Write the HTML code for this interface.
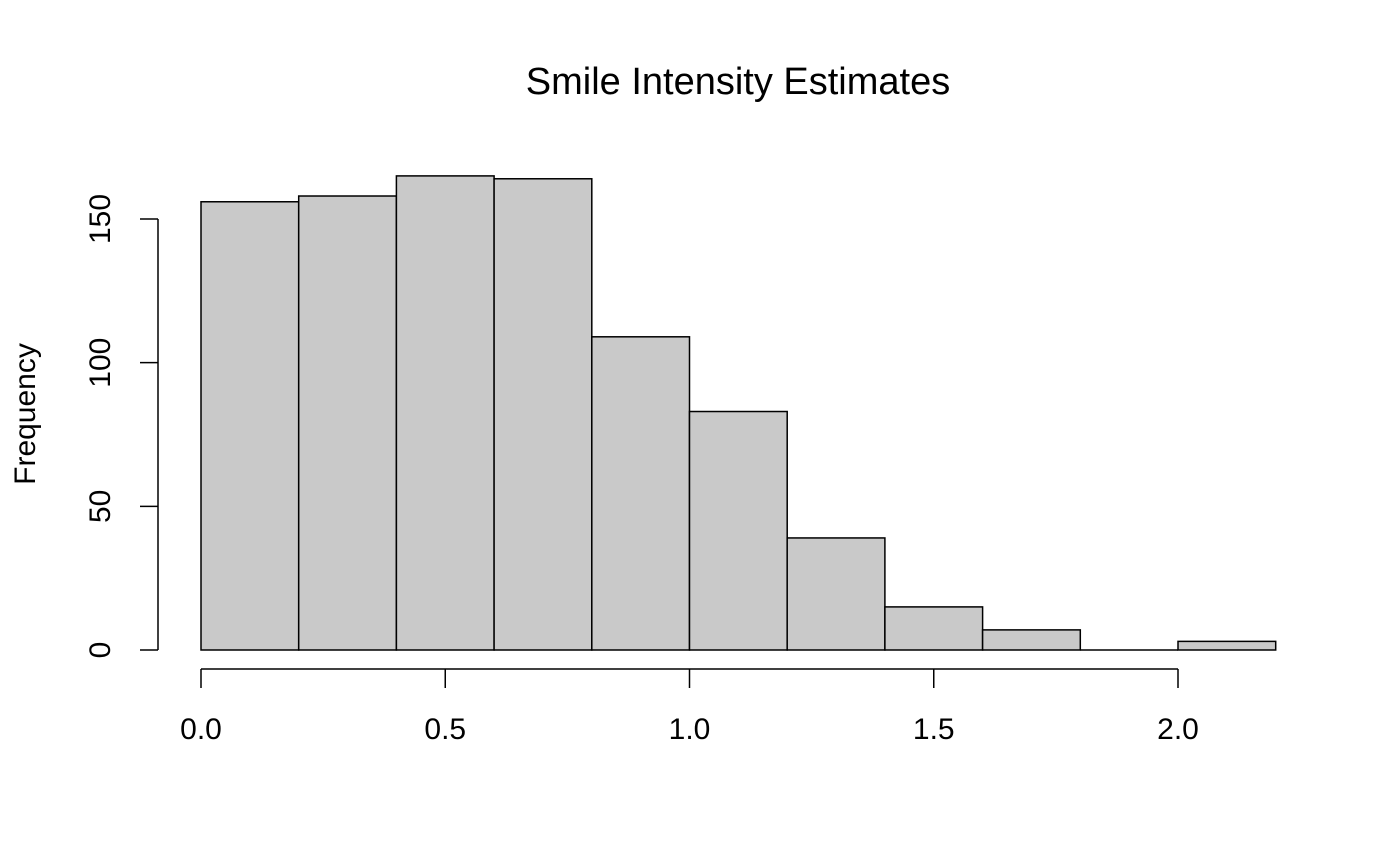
<!DOCTYPE html>
<html><head><meta charset="utf-8"><style>
html,body{margin:0;padding:0;background:#fff;}
svg{display:block;font-family:"Liberation Sans",Arial,sans-serif;}
</style></head><body>
<svg id="chart" width="1400" height="865" viewBox="0 0 1400 865" xmlns="http://www.w3.org/2000/svg">
<text x="738" y="94" font-size="38" text-anchor="middle">Smile Intensity Estimates</text>
<text transform="translate(35,414) rotate(-90)" font-size="30" text-anchor="middle">Frequency</text>
<g id="bars"></g>
<g id="yaxis"></g>
<g id="xaxis"></g>
</svg>
<script>
const binEdges = [0,0.2,0.4,0.6,0.8,1.0,1.2,1.4,1.6,1.8,2.0,2.2];
const counts = [156,158,165,164,109,83,39,15,7,0,3];
const yTicks = [0,50,100,150];
const xTicks = [0,0.5,1.0,1.5,2.0];
const xTickLabels = ["0.0","0.5","1.0","1.5","2.0"];

const NS="http://www.w3.org/2000/svg";
const x = v => 201 + v*(1178-201)/2.0;
const y = v => 650 - v*(650-219)/150;
function mk(tag, attrs, parent){const e=document.createElementNS(NS,tag);for(const k in attrs)e.setAttribute(k,attrs[k]);parent.appendChild(e);return e;}
const bars=document.getElementById('bars');
counts.forEach((c,i)=>{
  const x0=x(binEdges[i]), x1=x(binEdges[i+1]);
  if(c===0){
    const ln=mk('line',{x1:x0,x2:x1,y1:y(0),y2:y(0),stroke:'#000','stroke-width':1.5},bars);
    
    
    return;
  }
  const r=mk('rect',{x:x0,y:y(c),width:x1-x0,height:y(0)-y(c),fill:'#c9c9c9',stroke:'#000','stroke-width':1.5},bars);
  
  
});
const ya=document.getElementById('yaxis');
let l=mk('line',{x1:158,x2:158,y1:y(yTicks[0]),y2:y(yTicks[yTicks.length-1]),stroke:'#000','stroke-width':1.5},ya);


yTicks.forEach(t=>{
  const tk=mk('line',{x1:140,x2:158,y1:y(t),y2:y(t),stroke:'#000','stroke-width':1.5},ya);
  
  
  const tx=mk('text',{transform:`translate(110,${y(t)}) rotate(-90)`,'font-size':30,'text-anchor':'middle'},ya);
  tx.textContent=t;
  
  
});
const xa=document.getElementById('xaxis');
l=mk('line',{x1:x(xTicks[0]),x2:x(xTicks[xTicks.length-1]),y1:669,y2:669,stroke:'#000','stroke-width':1.5},xa);


xTicks.forEach((t,i)=>{
  const tk=mk('line',{x1:x(t),x2:x(t),y1:669,y2:688,stroke:'#000','stroke-width':1.5},xa);
  
  
  const tx=mk('text',{x:x(t),y:739,'font-size':30,'text-anchor':'middle'},xa);
  tx.textContent=xTickLabels[i];
  
  
});
</script>
</body></html>
